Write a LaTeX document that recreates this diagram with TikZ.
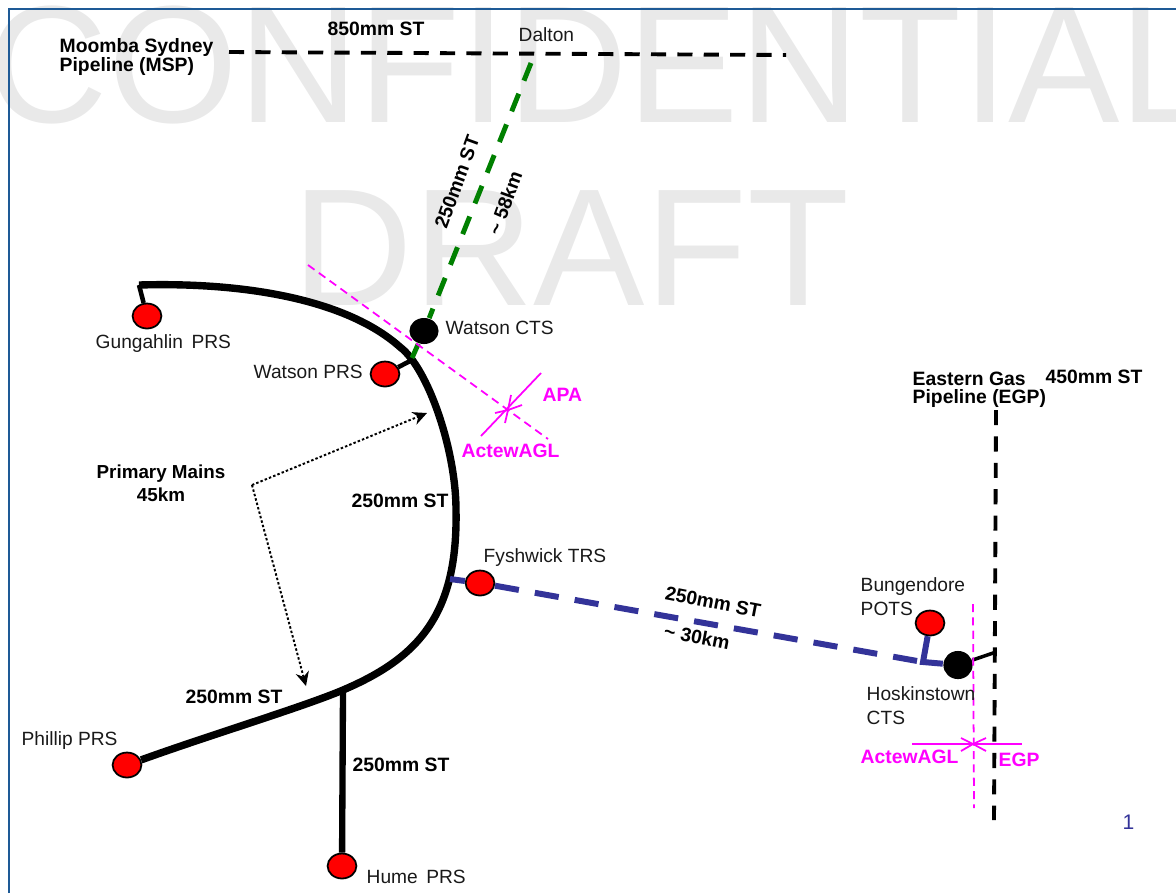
\documentclass[tikz,border=0pt]{standalone}
\usepackage{fontspec}
\setmainfont{Liberation Sans}
\usetikzlibrary{arrows.meta,shapes.geometric}
\definecolor{mains}{RGB}{51,51,153}
\definecolor{feed}{RGB}{0,128,0}
\definecolor{frameblue}{RGB}{30,90,150}
\definecolor{stampgrey}{RGB}{233,233,233}
\definecolor{bndry}{RGB}{255,0,255}
\tikzset{
  lbl/.style={font=\fontsize{5.45}{6.8}\selectfont,align=left,inner sep=0pt,anchor=west,text=black!90},
  blbl/.style={lbl,font=\fontsize{5.5}{5.2}\selectfont\bfseries,text=black},
  mlbl/.style={blbl,text=bndry},
  stamp/.style={font=\fontsize{47.5}{47.5}\selectfont,text=stampgrey,inner sep=0pt,anchor=base west},
  prs/.style={ellipse,draw=black,line width=0.5pt,fill=red,minimum width=8.2pt,minimum height=7.1pt,inner sep=0pt},
  cts/.style={ellipse,fill=black,minimum width=8.3pt,minimum height=7.4pt,inner sep=0pt},
  mainpipe/.style={line width=2.1pt,black},
  stub/.style={line width=1.3pt,black},
  feedpipe/.style={line width=1.4pt,feed},
  bluepipe/.style={line width=1.7pt,mains},
  transpipe/.style={line width=1.1pt,black,dash pattern=on 4.3pt off 3.2pt},
  bound/.style={line width=0.5pt,bndry,dash pattern=on 2.3pt off 1.5pt},
  cut/.style={line width=0.5pt,bndry},
  dotarrow/.style={-{Stealth[length=4pt,width=3.8pt]},line width=0.55pt,dash pattern=on 0.7pt off 0.6pt},
}
\begin{document}
\begin{tikzpicture}[x=0.01cm,y=-0.01cm,>=Stealth]
\useasboundingbox (0,0) rectangle (1176,893);
\clip (0,0) rectangle (1176,893);
% stamp
\node[stamp] (conf) at (-13,122) {CONFIDENTIAL};
\node[stamp] (draft) at (292,305) {DRAFT};
% frame
\draw[frameblue,line width=0.6pt] (9,893) -- (9,9) -- (1176,9);
% nodes
\node[prs] (gung) at (147,316) {};
\node[prs] (watp) at (385,374) {};
\node[cts] (watc) at (424,331) {};
\node[prs] (fysh) at (480,583) {};
\node[prs] (bung) at (930,623) {};
\node[cts,minimum height=8pt] (hosk) at (958,665) {};
\node[prs] (phil) at (127,765) {};
\node[prs] (hume) at (342,866) {};
\coordinate (gungend) at (139,285);
\coordinate (watpj) at (412,360);
\coordinate (watcj) at (412,358);
\coordinate (fyshj) at (450,579);
\coordinate (humej) at (343,692);
\coordinate (bend) at (923,662);
\coordinate (dalt) at (531,63);
\coordinate (egpj) at (996,652);
\coordinate (ring1) at (400,347);
\coordinate (ring2) at (456,510);
\coordinate (ring3) at (343,690);
% main ring
\draw[stub] (gung) -- (gungend);
\draw[mainpipe,line join=round] (gungend) .. controls (240,282) and (345,298) .. (ring1)
  .. controls (428,368) and (456,450) .. (ring2)
  .. controls (458,615) and (418,658) .. (ring3)
  .. controls (303,707) and (210,735) .. (phil);
\draw[mainpipe,line width=1.8pt] (humej) -- (hume);
\draw[stub] (watp) -- (watpj);
% green line
\draw[feedpipe,dash pattern=on 5.4pt off 4pt] (dalt) -- (watc);
\draw[feedpipe] (watc) -- (watcj);
% blue line
\draw[bluepipe] (fyshj) -- (fysh);
\draw[bluepipe,dash pattern=on 6.9pt off 4.6pt] (fysh) -- (bend);
\draw[bluepipe,line join=miter] (bung) -- (bend) -- (hosk);
\draw[line width=1pt] (hosk) -- (egpj);
% transmission
\coordinate (msp1) at (229,52);
\coordinate (msp2) at (786,55);
\coordinate (egp1) at (996,410);
\coordinate (egp2) at (994,820);
\draw[transpipe] (msp1) -- (msp2);
\draw[transpipe] (egp1) -- (egp2);
% boundaries
\coordinate (apa1) at (308,265);
\coordinate (apa2) at (548,439);
\coordinate (apax) at (508,410);
\draw[bound] (apa1) -- (apa2);
\coordinate (apa3) at (541,373);
\coordinate (apa4) at (481,436);
\draw[cut] (apa3) -- (apa4);
\coordinate (egb1) at (973,604);
\coordinate (egb2) at (974,808);
\coordinate (egbx) at (973,744);
\draw[bound] (egb1) -- (egb2);
\coordinate (egb3) at (912,744);
\coordinate (egb4) at (1022,744);
\draw[cut] (egb3) -- (egb4);
\foreach \dx/\dy in {14/-5,3/-15,-13/3,-3/13}
  \draw[cut] (apax) -- ++(\dx,\dy);
\foreach \dx/\dy in {-12/-6,-12/7,13/-6,13/7}
  \draw[cut] (egbx) -- ++(\dx,\dy);
% primary mains arrows
\coordinate (pm) at (252,485);
\coordinate (pmt) at (427,413);
\coordinate (pmb) at (306,686);
\draw[dotarrow] (pm) -- (pmt);
\draw[dotarrow] (pm) -- (pmb);
% labels
\node[blbl] (lmsp) at (59,57) {Moomba Sydney\\Pipeline (MSP)};
\node[blbl] (l850) at (327,29) {850mm ST};
\node[lbl] (ldalt) at (518,35) {Dalton};
\node[blbl,anchor=center,rotate=70] (lg1) at (457,182) {250mm ST};
\node[blbl,anchor=center,rotate=70] (lg2) at (505,203) {\textasciitilde{} 58km};
\node[lbl] (lwatc) at (445,328) {Watson CTS};
\node[lbl] (lwatp) at (253,372) {Watson PRS};
\node[lbl] (lgung) at (95,344) {Gungahlin\, PRS};
\node[mlbl] (lapa) at (542,395) {APA};
\node[mlbl] (lact) at (461,451) {ActewAGL};
\node[blbl,align=center,anchor=center,font=\fontsize{5.35}{5.2}\selectfont\bfseries] (lpm) at (161,483) {Primary Mains\\[1.4pt]45km};
\node[blbl] (lr1) at (351,501) {250mm ST};
\node[lbl] (lfysh) at (483,558) {Fyshwick TRS};
\node[blbl,anchor=center,rotate=-11] (lb1) at (713,602) {250mm ST};
\node[blbl,anchor=center,rotate=-11] (lb2) at (697,637) {\textasciitilde{} 30km};
\node[lbl] (lbung) at (860,597) {Bungendore\\POTS};
\node[lbl] (lhosk) at (866,706) {Hoskinstown\\CTS};
\node[mlbl] (lact2) at (860,757) {ActewAGL};
\node[mlbl] (legp) at (998,760) {EGP};
\node[blbl] (legpn) at (912,390) {Eastern Gas\\Pipeline (EGP)};
\node[blbl] (l450) at (1045,377) {450mm ST};
\node[blbl] (lr2) at (185,697) {250mm ST};
\node[lbl] (lphil) at (21,741) {Phillip PRS};
\node[blbl] (lr3) at (352,765) {250mm ST};
\node[lbl] (lhume) at (366,877) {Hume\, PRS};
\node[lbl,text=mains,font=\fontsize{6}{7}\selectfont] (lnum) at (1122,822) {1};
\end{tikzpicture}
\end{document}
